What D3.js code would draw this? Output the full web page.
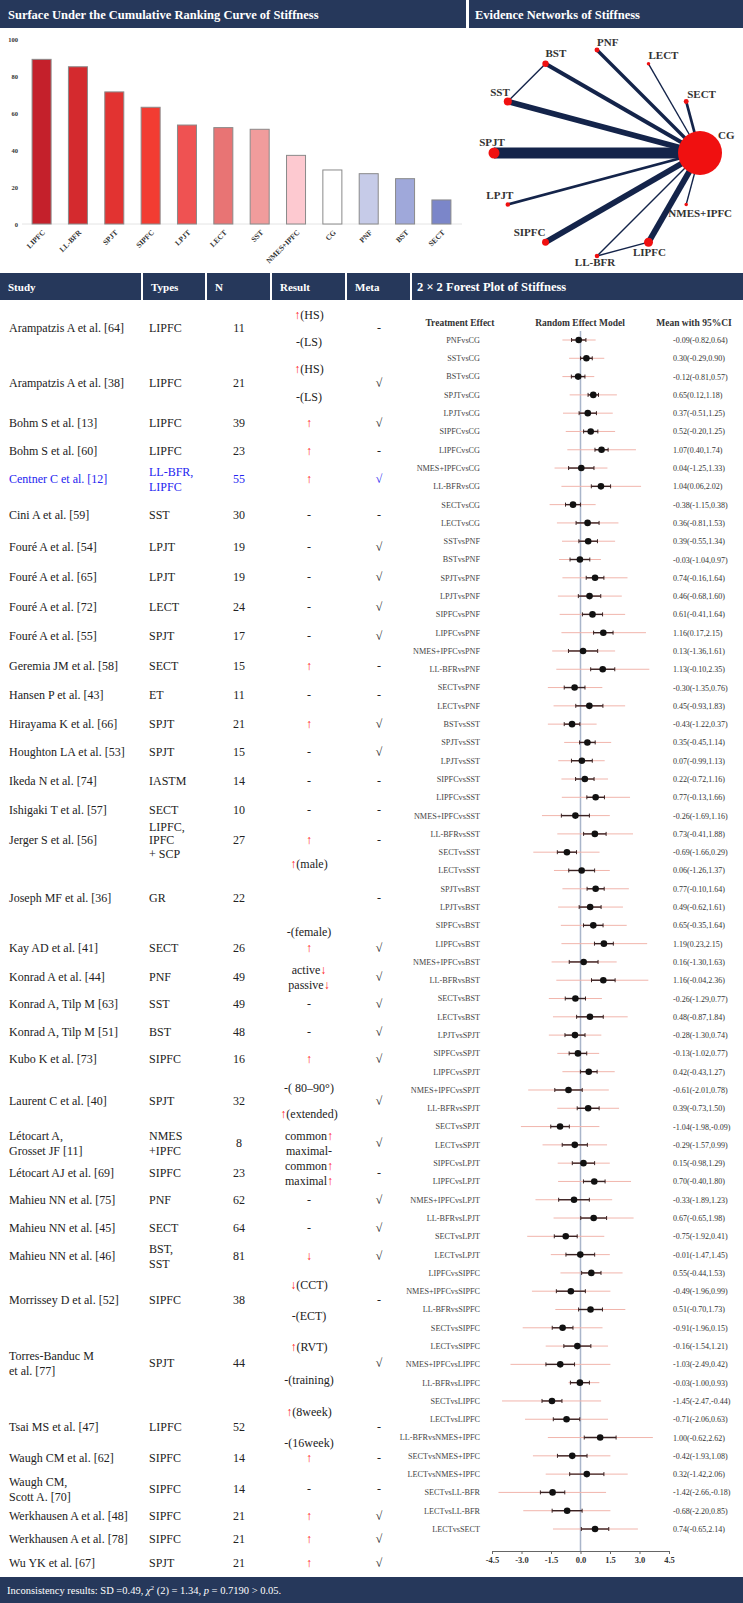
<!DOCTYPE html>
<html>
<head>
<meta charset="utf-8">
<script src="https://cdn.jsdelivr.net/npm/d3@7"></script>
<style>
  body { margin: 0; background: #fff; }
  svg { display: block; font-family: "Liberation Serif", "Times New Roman", serif; }
</style>
</head>
<body>
<div id="chart"></div>
<script>
// SUCRA + network + study table + forest plot of stiffness
//=========================================================

// ---- SUCRA bars ----
var sucraNames = ["LIPFC", "LL-BFR", "SPJT", "SIPFC", "LPJT", "LECT", "SST", "NMES+IPFC", "CG", "PNF", "BST", "SECT"];
var sucraValues = [89.0, 85.0, 71.4, 63.1, 53.5, 52.1, 51.2, 37.1, 29.2, 27.2, 24.5, 13.0];
var sucraTicks = [0, 20, 40, 60, 80, 100];

// ---- evidence network ----
var netNodes = ["CG", "SECT", "LECT", "PNF", "BST", "SST", "SPJT", "LPJT", "SIPFC", "LL-BFR", "LIPFC", "NMES+IPFC"];
var netNodeWeight = [480, 6, 3, 6, 10, 16, 30, 5, 12, 5, 20, 3];
var netEdges = [
    ["CG", "SECT", 2], ["CG", "LECT", 1], ["CG", "PNF", 2.5], ["CG", "BST", 3],
    ["CG", "SST", 4], ["CG", "SPJT", 8], ["CG", "LPJT", 2], ["CG", "SIPFC", 4.3],
    ["CG", "LL-BFR", 1], ["CG", "LIPFC", 4.3], ["CG", "NMES+IPFC", 1],
    ["BST", "SST", 1], ["LL-BFR", "LIPFC", 1]
];

// ---- study table ----
var studies = ["Arampatzis A et al. [64]", "Arampatzis A et al. [38]", "Bohm S et al. [13]", "Bohm S et al. [60]",
    "Centner C et al. [12]", "Cini A et al. [59]", "Fouré A et al. [54]", "Fouré A et al. [65]", "Fouré A et al. [72]",
    "Fouré A et al. [55]", "Geremia JM et al. [58]", "Hansen P et al. [43]", "Hirayama K et al. [66]",
    "Houghton LA et al. [53]", "Ikeda N et al. [74]", "Ishigaki T et al. [57]", "Jerger S et al. [56]",
    "Joseph MF et al. [36]", "Kay AD et al. [41]", "Konrad A et al. [44]", "Konrad A, Tilp M [63]",
    "Konrad A, Tilp M [51]", "Kubo K et al. [73]", "Laurent C et al. [40]", "Létocart A,\nGrosset JF [11]",
    "Létocart AJ et al. [69]", "Mahieu NN et al. [75]", "Mahieu NN et al. [45]", "Mahieu NN et al. [46]",
    "Morrissey D et al. [52]", "Torres-Banduc M\net al. [77]", "Tsai MS et al. [47]", "Waugh CM et al. [62]",
    "Waugh CM,\nScott A. [70]", "Werkhausen A et al. [48]", "Werkhausen A et al. [78]", "Wu YK et al. [67]"];
var studyTypes = ["LIPFC", "LIPFC", "LIPFC", "LIPFC", "LL-BFR,\nLIPFC", "SST", "LPJT", "LPJT", "LECT", "SPJT",
    "SECT", "ET", "SPJT", "SPJT", "IASTM", "SECT", "LIPFC,\nIPFC\n+ SCP", "GR", "SECT", "PNF", "SST", "BST",
    "SIPFC", "SPJT", "NMES\n+IPFC", "SIPFC", "PNF", "SECT", "BST,\nSST", "SIPFC", "SPJT", "LIPFC", "SIPFC",
    "SIPFC", "SIPFC", "SIPFC", "SPJT"];
var studyN = [11, 21, 39, 23, 55, 30, 19, 19, 24, 17, 15, 11, 21, 15, 14, 10, 27, 22, 26, 49, 49, 48, 16, 32, 8,
    23, 62, 64, 81, 38, 44, 52, 14, 14, 21, 21, 21];
var studyResult = [["↑(HS)", "-(LS)"], ["↑(HS)", "-(LS)"], ["↑"], ["↑"], ["↑"], ["-"], ["-"], ["-"], ["-"], ["-"],
    ["↑"], ["-"], ["↑"], ["-"], ["-"], ["-"], ["↑"], ["↑(male)", "-(female)"], ["↑"], ["active↓", "passive↓"],
    ["-"], ["-"], ["↑"], ["-( 80–90°)", "↑(extended)"], ["common↑", "maximal-"], ["common↑", "maximal↑"],
    ["-"], ["-"], ["↓"], ["↓(CCT)", "-(ECT)"], ["↑(RVT)", "-(training)"], ["↑(8week)", "-(16week)"], ["↑"],
    ["-"], ["↑"], ["↑"], ["↑"]];
var studyMeta = ["-", "√", "√", "-", "√", "-", "√", "√", "√", "√", "-", "-", "√", "√", "-", "-", "-", "-", "√",
    "√", "√", "√", "√", "√", "√", "-", "√", "√", "√", "-", "√", "-", "-", "-", "√", "√", "√"];
var highlightStudy = "Centner C et al. [12]";

// ---- forest plot ----
var comparisons = ["PNFvsCG", "SSTvsCG", "BSTvsCG", "SPJTvsCG", "LPJTvsCG", "SIPFCvsCG", "LIPFCvsCG", "NMES+IPFCvsCG",
    "LL-BFRvsCG", "SECTvsCG", "LECTvsCG", "SSTvsPNF", "BSTvsPNF", "SPJTvsPNF", "LPJTvsPNF", "SIPFCvsPNF",
    "LIPFCvsPNF", "NMES+IPFCvsPNF", "LL-BFRvsPNF", "SECTvsPNF", "LECTvsPNF", "BSTvsSST", "SPJTvsSST", "LPJTvsSST",
    "SIPFCvsSST", "LIPFCvsSST", "NMES+IPFCvsSST", "LL-BFRvsSST", "SECTvsSST", "LECTvsSST", "SPJTvsBST",
    "LPJTvsBST", "SIPFCvsBST", "LIPFCvsBST", "NMES+IPFCvsBST", "LL-BFRvsBST", "SECTvsBST", "LECTvsBST",
    "LPJTvsSPJT", "SIPFCvsSPJT", "LIPFCvsSPJT", "NMES+IPFCvsSPJT", "LL-BFRvsSPJT", "SECTvsSPJT", "LECTvsSPJT",
    "SIPFCvsLPJT", "LIPFCvsLPJT", "NMES+IPFCvsLPJT", "LL-BFRvsLPJT", "SECTvsLPJT", "LECTvsLPJT", "LIPFCvsSIPFC",
    "NMES+IPFCvsSIPFC", "LL-BFRvsSIPFC", "SECTvsSIPFC", "LECTvsSIPFC", "NMES+IPFCvsLIPFC", "LL-BFRvsLIPFC",
    "SECTvsLIPFC", "LECTvsLIPFC", "LL-BFRvsNMES+IPFC", "SECTvsNMES+IPFC", "LECTvsNMES+IPFC", "SECTvsLL-BFR",
    "LECTvsLL-BFR", "LECTvsSECT"];
var effMean = [-0.09, 0.30, -0.12, 0.65, 0.37, 0.52, 1.07, 0.04, 1.04, -0.38, 0.36, 0.39, -0.03, 0.74, 0.46, 0.61,
    1.16, 0.13, 1.13, -0.30, 0.45, -0.43, 0.35, 0.07, 0.22, 0.77, -0.26, 0.73, -0.69, 0.06, 0.77, 0.49, 0.65, 1.19,
    0.16, 1.16, -0.26, 0.48, -0.28, -0.13, 0.42, -0.61, 0.39, -1.04, -0.29, 0.15, 0.70, -0.33, 0.67, -0.75, -0.01,
    0.55, -0.49, 0.51, -0.91, -0.16, -1.03, -0.03, -1.45, -0.71, 1.00, -0.42, 0.32, -1.42, -0.68, 0.74];
var ciLow = [-0.82, -0.29, -0.81, 0.12, -0.51, -0.20, 0.40, -1.25, 0.06, -1.15, -0.81, -0.55, -1.04, -0.16, -0.68,
    -0.41, 0.17, -1.36, -0.10, -1.35, -0.93, -1.22, -0.45, -0.99, -0.72, -0.13, -1.69, -0.41, -1.66, -1.26, -0.10,
    -0.62, -0.35, 0.23, -1.30, -0.04, -1.29, -0.87, -1.30, -1.02, -0.43, -2.01, -0.73, -1.98, -1.57, -0.98, -0.40,
    -1.89, -0.65, -1.92, -1.47, -0.44, -1.96, -0.70, -1.96, -1.54, -2.49, -1.00, -2.47, -2.06, -0.62, -1.93, -1.42,
    -2.66, -2.20, -0.65];
var ciHigh = [0.64, 0.90, 0.57, 1.18, 1.25, 1.25, 1.74, 1.33, 2.02, 0.38, 1.53, 1.34, 0.97, 1.64, 1.60, 1.64, 2.15,
    1.61, 2.35, 0.76, 1.83, 0.37, 1.14, 1.13, 1.16, 1.66, 1.16, 1.88, 0.29, 1.37, 1.64, 1.61, 1.64, 2.15, 1.63, 2.36,
    0.77, 1.84, 0.74, 0.77, 1.27, 0.78, 1.50, -0.09, 0.99, 1.29, 1.80, 1.23, 1.98, 0.41, 1.45, 1.53, 0.99, 1.73,
    0.15, 1.21, 0.42, 0.93, -0.44, 0.63, 2.62, 1.08, 2.06, -0.18, 0.85, 2.14];
// pale red (prediction) interval
var predLow = [-0.92, -0.58, -0.92, -0.55, -0.89, -0.75, -0.67, -1.32, -0.97, -1.57, -1.20, -0.94, -1.09, -0.92,
    -1.15, -1.06, -0.97, -1.44, -1.23, -1.66, -1.37, -1.66, -0.83, -1.13, -0.97, -0.95, -1.96, -1.18, -2.40, -1.35,
    -0.92, -1.14, -1.00, -0.97, -1.47, -1.23, -1.61, -1.40, -1.61, -1.18, -0.92, -2.66, -1.18, -3.03, -1.93, -1.16,
    -1.14, -2.29, -1.37, -2.71, -1.51, -1.02, -2.47, -1.28, -2.94, -1.77, -3.56, -0.61, -3.99, -2.82, -1.66, -2.42,
    -1.77, -4.17, -2.91, -1.40];
var predHigh = [0.77, 1.21, 0.70, 1.85, 1.64, 1.76, 2.82, 1.37, 3.08, 0.77, 1.93, 1.76, 1.04, 2.39, 2.10, 2.27, 3.33,
    1.76, 3.50, 1.11, 2.27, 0.82, 1.56, 1.23, 1.40, 2.52, 1.49, 2.67, 0.97, 1.49, 2.46, 2.16, 2.35, 3.39, 1.84, 3.45,
    1.09, 2.40, 1.06, 0.95, 1.74, 1.44, 1.96, 0.96, 1.35, 1.49, 2.57, 1.61, 2.70, 1.21, 1.49, 2.14, 1.52, 2.28, 1.12,
    1.40, 1.52, 0.96, 1.05, 1.40, 3.68, 1.52, 2.40, 1.30, 1.52, 2.92];
var forestTicks = [-4.5, -3.0, -1.5, 0, 1.5, 3.0, 4.5];

// ---- styles / layout ----
var navy = "#26385b";
var barColors = ["#c4202b", "#d42a2e", "#e23331", "#f23c32", "#ef5252", "#e87474", "#f09c9c", "#fdc9d0",
    "#ffffff", "#c6cbe8", "#9fa8da", "#7b86c9"];
// per-node label placement: [dx, dy, anchor]
var netLabelPos = [[18, -14, "start"], [1, -4, "start"], [0, -5, "start"], [0, -4, "start"], [0, -7, "start"],
    [2, -6, "end"], [-2, -7, "middle"], [-8, -6, "middle"], [0, -6, "end"], [-2, 10, "middle"],
    [1, 14, "middle"], [14, 12.5, "middle"]];
// table row centres and line spacing of two-part results
var rowY = [328, 383, 423, 451, 479, 515, 547, 577, 607, 636, 666, 695, 724, 752, 781, 810, 840, 898, 948, 977,
    1004, 1032, 1059, 1101, 1143, 1173, 1200, 1228, 1256, 1300, 1363, 1427, 1458, 1489, 1516, 1539, 1563];
var resultGap = {0: 27, 1: 28, 17: 68, 19: 15, 23: 26, 24: 15, 25: 15, 29: 31, 30: 33, 31: 31};


var svg = d3.select("#chart")
    .append("svg")
    .attr("width", 743)
    .attr("height", 1603);

// header bars
//==============
function headerCell(x, y, w, h) {
    svg.append("rect").attr("x", x).attr("y", y).attr("width", w).attr("height", h).attr("fill", navy);
}
function headerText(x, y, str, size) {
    svg.append("text").attr("x", x).attr("y", y).attr("fill", "#fff")
        .attr("font-weight", "bold").attr("font-size", size).text(str);
}

headerCell(0, 0, 466, 28);
headerCell(469, 0, 274, 28);
headerText(8, 19, "Surface Under the Cumulative Ranking Curve of Stiffness", 12.5);
headerText(475, 19, "Evidence Networks of Stiffness", 12.5);

var colEdges = [0, 143, 207, 272, 347, 412, 743];
var colTitles = ["Study", "Types", "N", "Result", "Meta", "2 × 2 Forest Plot of Stiffness"];
colTitles.forEach(function (t, i) {
    headerCell(colEdges[i], 273, colEdges[i + 1] - colEdges[i] - (i < 5 ? 2 : 0), 27);
    headerText(colEdges[i] + (i === 5 ? 5 : 8), 291, t, i === 5 ? 12.5 : 11);
});

headerCell(0, 1577, 743, 26);
var incon = svg.append("text").attr("x", 7).attr("y", 1594).attr("fill", "#fff").attr("font-size", 10.5);
incon.append("tspan").text("Inconsistency results: SD =0.49, ");
incon.append("tspan").attr("font-style", "italic").text("χ");
incon.append("tspan").attr("font-size", 7).attr("dy", -4).text("2");
incon.append("tspan").attr("dy", 4).text(" (2) = 1.34, ");
incon.append("tspan").attr("font-style", "italic").text("p");
incon.append("tspan").text(" = 0.7190 > 0.05.");


// Step 1: SUCRA bar chart
//==========================
var xBar = d3.scaleBand()
    .domain(sucraNames)
    .range([23, 460])
    .paddingInner(0.477)
    .paddingOuter(0.25);

var yBar = d3.scaleLinear()
    .domain([0, 100])
    .range([224, 39]);

var leftAxis = d3.axisLeft(yBar).tickValues(sucraTicks).tickSize(0).tickPadding(0);
var yAxisG = svg.append("g")
    .attr("transform", "translate(18,0)")
    .call(leftAxis);
yAxisG.select(".domain").remove();
yAxisG.selectAll("text")
    .attr("font-family", "Liberation Serif, serif")
    .attr("font-weight", "bold")
    .attr("font-size", 6.5)
    .attr("fill", "#333");

svg.append("line")
    .attr("x1", 22).attr("x2", 462)
    .attr("y1", yBar(0)).attr("y2", yBar(0))
    .attr("stroke", "#e4e4e4");

svg.append("g").selectAll("rect")
    .data(sucraNames)
    .enter()
    .append("rect")
    .attr("x", d => xBar(d))
    .attr("width", xBar.bandwidth())
    .attr("y", (d, i) => yBar(sucraValues[i]))
    .attr("height", (d, i) => yBar(0) - yBar(sucraValues[i]))
    .attr("fill", (d, i) => barColors[i])
    .attr("stroke", "#8a8a8a")
    .attr("stroke-width", 1);

svg.append("g").selectAll("text")
    .data(sucraNames)
    .enter()
    .append("text")
    .attr("transform", d => `translate(${xBar(d) + xBar.bandwidth() / 2 + 4}, ${yBar(0) + 9}) rotate(-45)`)
    .attr("text-anchor", "end")
    .attr("font-size", 7.5)
    .attr("font-weight", "bold")
    .attr("fill", "#333")
    .text(d => d);


// Step 2: evidence network (circular layout)
//=============================================
var netCx = 597, netCy = 153, netR = 103;
var angle = d3.scaleLinear().domain([0, netNodes.length]).range([0, 2 * Math.PI]);
var nodeR = d3.scaleSqrt().domain([0, d3.max(netNodeWeight)]).range([0, 22]);
var edgeW = d3.scaleLinear().domain([0, 8]).range([0, 11]);

var nodePos = {};
netNodes.forEach(function (n, i) {
    nodePos[n] = [netCx + netR * Math.cos(angle(i)), netCy - netR * Math.sin(angle(i))];
});

svg.append("g").selectAll("line")
    .data(netEdges)
    .enter()
    .append("line")
    .attr("x1", d => nodePos[d[0]][0])
    .attr("y1", d => nodePos[d[0]][1])
    .attr("x2", d => nodePos[d[1]][0])
    .attr("y2", d => nodePos[d[1]][1])
    .attr("stroke", "#14244a")
    .attr("stroke-width", d => edgeW(d[2]));

svg.append("g").selectAll("circle")
    .data(netNodes)
    .enter()
    .append("circle")
    .attr("cx", d => nodePos[d][0])
    .attr("cy", d => nodePos[d][1])
    .attr("r", (d, i) => nodeR(netNodeWeight[i]))
    .attr("fill", "#f01010");

svg.append("g").selectAll("text")
    .data(netNodes)
    .enter()
    .append("text")
    .attr("x", (d, i) => nodePos[d][0] + netLabelPos[i][0])
    .attr("y", (d, i) => nodePos[d][1] + netLabelPos[i][1])
    .attr("text-anchor", (d, i) => netLabelPos[i][2])
    .attr("font-size", 11)
    .attr("font-weight", "bold")
    .attr("fill", "#333")
    .text(d => d);


// Step 3: study table
//=====================
var tbl = svg.append("g").attr("font-size", 12);

function multiLine(str, x, cy, anchor, color, lh) {
    var lines = str.split("\n");
    lines.forEach(function (ln, k) {
        tbl.append("text")
            .attr("x", x)
            .attr("y", cy + 4 + (k - (lines.length - 1) / 2) * lh)
            .attr("text-anchor", anchor)
            .attr("fill", color)
            .text(ln);
    });
}

// result line with red arrows
function richLine(str, x, y, color) {
    var t = tbl.append("text").attr("x", x).attr("y", y).attr("text-anchor", "middle").attr("fill", color);
    str.split(/([↑↓])/).forEach(function (part) {
        if (!part) return;
        t.append("tspan")
            .attr("fill", /[↑↓]/.test(part) ? "#ff1a1a" : color)
            .text(part);
    });
}

studies.forEach(function (name, i) {
    var cy = rowY[i];
    var col = name === highlightStudy ? "#2424f0" : "#222";
    var nLines = studyTypes[i].split("\n").length;
    multiLine(name, 9, cy, "start", col, 15);
    multiLine(studyTypes[i], 149, cy, "start", col, nLines > 2 ? 13.5 : 15);
    multiLine(String(studyN[i]), 239, cy, "middle", col, 15);

    var res = studyResult[i];
    var gap = resultGap[i] || 0;
    res.forEach(function (r, k) {
        richLine(r, 309, cy + 4 + (k - (res.length - 1) / 2) * gap, "#222");
    });
    multiLine(studyMeta[i], 379, cy, "middle", col, 15);
});


// Step 4: forest plot
//=====================
var fx = d3.scaleLinear().domain([-4.5, 4.5]).range([492, 669]);
var fy = d3.scalePoint().domain(comparisons).range([340, 1529]);
var forest = svg.append("g");

[["Treatment Effect", 460], ["Random Effect Model", 580], ["Mean with 95%CI", 694]].forEach(function (h) {
    forest.append("text")
        .attr("x", h[1]).attr("y", 326)
        .attr("text-anchor", "middle")
        .attr("font-size", 9.5)
        .attr("font-weight", "bold")
        .attr("fill", "#333")
        .text(h[0]);
});

forest.append("line")
    .attr("x1", fx(0)).attr("x2", fx(0))
    .attr("y1", 331).attr("y2", 1551)
    .attr("stroke", "#a9b5ca")
    .attr("stroke-width", 1.5);

var rows = forest.selectAll(".frow")
    .data(comparisons)
    .enter()
    .append("g")
    .attr("class", "frow")
    .attr("transform", d => `translate(0, ${fy(d)})`);

// pale prediction interval
rows.append("line")
    .attr("x1", (d, i) => fx(predLow[i]))
    .attr("x2", (d, i) => fx(predHigh[i]))
    .attr("stroke", "#f1b5ac")
    .attr("stroke-width", 1);

// dark bar drawn at half the width of the 95% CI, as in the source figure
function innerLo(i) { return effMean[i] - (ciHigh[i] - ciLow[i]) / 4; }
function innerHi(i) { return effMean[i] + (ciHigh[i] - ciLow[i]) / 4; }

rows.append("line")
    .attr("x1", (d, i) => fx(innerLo(i)))
    .attr("x2", (d, i) => fx(innerHi(i)))
    .attr("stroke", "#3b2222")
    .attr("stroke-width", 1.4);
rows.append("line")
    .attr("x1", (d, i) => fx(innerLo(i))).attr("x2", (d, i) => fx(innerLo(i)))
    .attr("y1", -2).attr("y2", 2)
    .attr("stroke", "#3b2222");
rows.append("line")
    .attr("x1", (d, i) => fx(innerHi(i))).attr("x2", (d, i) => fx(innerHi(i)))
    .attr("y1", -2).attr("y2", 2)
    .attr("stroke", "#3b2222");

rows.append("circle")
    .attr("cx", (d, i) => fx(effMean[i]))
    .attr("r", 3.3)
    .attr("fill", "#111");

rows.append("text")
    .attr("x", 480)
    .attr("y", 2.9)
    .attr("text-anchor", "end")
    .attr("font-size", 8.2)
    .attr("fill", "#444")
    .text(d => d);

rows.append("text")
    .attr("x", 673)
    .attr("y", 3)
    .attr("font-size", 8)
    .attr("fill", "#333")
    .text((d, i) => `${effMean[i].toFixed(2)}(${ciLow[i].toFixed(2)},${ciHigh[i].toFixed(2)})`);

var bottomAxis = d3.axisBottom(fx)
    .tickValues(forestTicks)
    .tickFormat(d => d.toFixed(1))
    .tickSize(3)
    .tickPadding(3);

var fAxis = forest.append("g")
    .attr("transform", "translate(0, 1551)")
    .call(bottomAxis);
fAxis.selectAll("path, line").attr("stroke", "#666");
fAxis.selectAll("text")
    .attr("font-family", "Liberation Serif, serif")
    .attr("font-size", 8.5)
    .attr("font-weight", "bold")
    .attr("fill", "#333");
</script>
</body>
</html>
